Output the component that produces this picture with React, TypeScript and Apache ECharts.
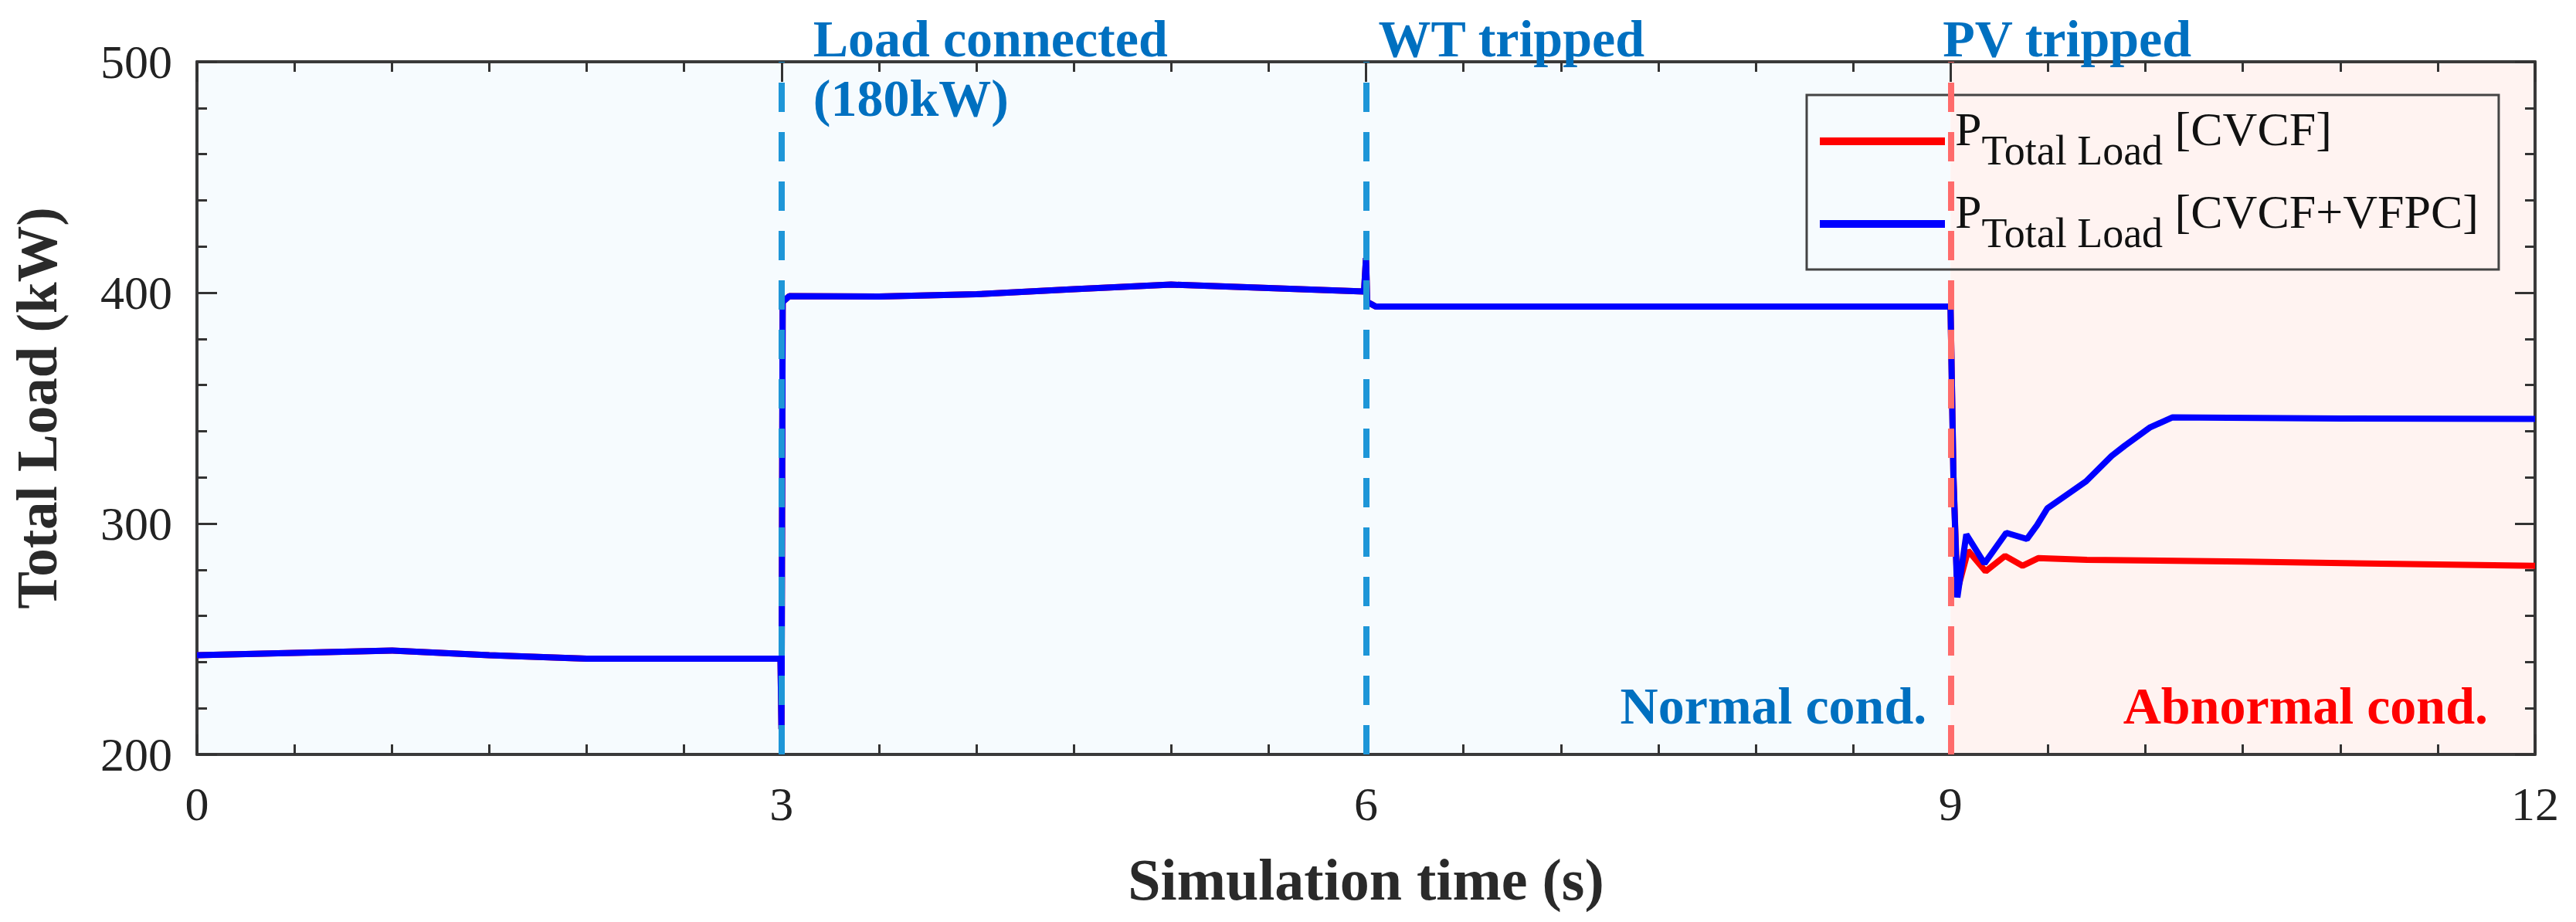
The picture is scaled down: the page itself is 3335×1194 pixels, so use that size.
import React, { useEffect, useRef } from "react";
import * as echarts from "echarts";

// ---- data ----
// shared trajectory of both controllers before the PV trip (t < 9 s)
const tCommon = [0, 0.5, 1.0, 1.5, 2.0, 2.5, 2.995, 3.0, 3.006, 3.04, 3.5, 4.0, 4.5, 5.0, 5.5, 5.99, 6.0, 6.006, 6.05, 7.0, 8.0, 8.995];
const pCommon = [243, 244, 245, 243, 241.5, 241.5, 241.5, 211, 396, 398.5, 398.3, 399.3, 401.5, 403.5, 402, 400.5, 415, 396, 394, 394, 394, 394];

// CVCF after the PV trip
const tCVCF = [9.0, 9.015, 9.035, 9.09, 9.18, 9.28, 9.37, 9.45, 9.7, 10.5, 11.5, 12.0];
const pCVCF = [394, 320, 271, 288.3, 279.3, 286, 281.7, 285, 284.3, 283.5, 282.3, 281.7];

// CVCF+VFPC after the PV trip
const tVFPC = [9.0, 9.015, 9.035, 9.081, 9.174, 9.286, 9.392, 9.444, 9.497, 9.628, 9.696, 9.827, 9.894, 10.025, 10.14, 11.0, 12.0];
const pVFPC = [394, 320, 268, 295.3, 282.7, 296, 293.3, 299.3, 306.6, 314.3, 318.3, 329.3, 333.7, 341.7, 346, 345.5, 345.3];

const seriesNames = ["CVCF", "CVCF+VFPC"];
const eventTimes = [3, 6, 9];
const xRange = [0, 12];
const xStep = 3;
const yRange = [200, 500];
const yStep = 100;

const SERIF = "'Liberation Serif', 'Times New Roman', serif";
const ANNO_BLUE = "#0070C0";

function zip(t: number[], p: number[]) {
  return t.map((v, i) => [v, p[i]]);
}

export default function App() {
  const ref = useRef<HTMLDivElement>(null);

  useEffect(() => {
    if (!ref.current) return;
    const chart = echarts.init(ref.current, undefined, { renderer: "svg" });

    const axisLine = { show: true, onZero: false, lineStyle: { color: "#3a3a3a", width: 4 } };
    const tickStyle = { color: "#333", width: 3 };

    const xBase = {
      type: "value" as const,
      min: xRange[0],
      max: xRange[1],
      interval: xStep,
      z: 1,
      axisLine,
      axisTick: { show: true, inside: true, length: 26, lineStyle: tickStyle },
      minorTick: { show: true, splitNumber: 6, length: 13, lineStyle: tickStyle },
      splitLine: { show: false },
    };
    const yBase = {
      type: "value" as const,
      min: yRange[0],
      max: yRange[1],
      interval: yStep,
      z: 1,
      axisLine,
      axisTick: { show: true, inside: true, length: 26, lineStyle: tickStyle },
      minorTick: { show: true, splitNumber: 5, length: 13, lineStyle: tickStyle },
    };

    const legendRich = {
      p: { fontSize: 62, lineHeight: 62, height: 62, fontFamily: SERIF, color: "#111", verticalAlign: "top" },
      s: {
        fontSize: 54,
        height: 54,
        lineHeight: 94,
        fontFamily: SERIF,
        color: "#111",
        verticalAlign: "top",
        padding: [32, 0, 8, 0],
      },
      n: { fontSize: 62, lineHeight: 62, height: 62, fontFamily: SERIF, color: "#111", verticalAlign: "top" },
    };

    const option: any = {
      animation: false,
      backgroundColor: "#ffffff",
      grid: { left: 255, right: 53, top: 80, bottom: 217, containLabel: false },
      xAxis: [
        {
          ...xBase,
          position: "bottom",
          axisLabel: { show: true, fontSize: 62, fontFamily: SERIF, color: "#222", margin: 33 },
          name: "Simulation time (s)",
          nameLocation: "middle",
          nameGap: 124,
          nameTextStyle: { fontSize: 76, fontWeight: "bold", fontFamily: SERIF, color: "#2a2a2a" },
        },
        { ...xBase, position: "top", axisLabel: { show: false } },
      ],
      yAxis: [
        {
          ...yBase,
          position: "left",
          axisLabel: { show: true, fontSize: 62, fontFamily: SERIF, color: "#222", margin: 32 },
          splitLine: { show: true, lineStyle: { color: "#E2E2E2", width: 4 } },
          name: "Total Load (kW)",
          nameLocation: "middle",
          nameGap: 170,
          nameTextStyle: { fontSize: 73, fontWeight: "bold", fontFamily: SERIF, color: "#2a2a2a" },
        },
        { ...yBase, position: "right", axisLabel: { show: false }, splitLine: { show: false } },
      ],
      legend: {
        show: true,
        orient: "vertical",
        left: 2339,
        top: 123,
        padding: [13, 26, 12, 17],
        itemGap: 13,
        itemWidth: 162,
        itemHeight: 10,
        icon: "rect",
        borderColor: "#444",
        borderWidth: 3,
        borderRadius: 0,
        backgroundColor: "transparent",
        selectedMode: false,
        data: seriesNames,
        formatter: (name: string) => `{p|P}{s|Total Load}{n| [${name}]}`,
        textStyle: { fontFamily: SERIF, color: "#111", padding: [0, 0, 0, 8], rich: legendRich },
      },
      series: [
        {
          name: "bg",
          type: "line",
          data: [[0, 200]],
          z: 0,
          silent: true,
          showSymbol: false,
          symbol: "none",
          lineStyle: { opacity: 0 },
          markArea: {
            silent: true,
            data: [
              [{ xAxis: xRange[0], itemStyle: { color: "#F6FBFE" } }, { xAxis: eventTimes[2] }],
              [{ xAxis: eventTimes[2], itemStyle: { color: "#FFF3F1" } }, { xAxis: xRange[1] }],
            ],
          },
        },
        {
          name: "events",
          type: "line",
          data: [[0, 200]],
          z: 2,
          silent: true,
          showSymbol: false,
          symbol: "none",
          lineStyle: { opacity: 0 },
          markLine: {
            silent: true,
            symbol: ["none", "none"],
            label: { show: false },
            data: eventTimes.map((t, i) => ({
              xAxis: t,
              lineStyle: {
                color: i < 2 ? "#1E96D8" : "#FF6B6B",
                type: [38, 26],
                width: 8,
              },
            })),
          },
        },
        {
          name: seriesNames[0],
          type: "line",
          z: 3,
          data: [...zip(tCommon, pCommon), ...zip(tCVCF, pCVCF)],
          showSymbol: false,
          symbol: "none",
          lineStyle: { color: "#FF0000", width: 8 },
          itemStyle: { color: "#FF0000" },
        },
        {
          name: seriesNames[1],
          type: "line",
          z: 4,
          data: [...zip(tCommon, pCommon), ...zip(tVFPC, pVFPC)],
          showSymbol: false,
          symbol: "none",
          lineStyle: { color: "#0000FF", width: 8 },
          itemStyle: { color: "#0000FF" },
        },
      ],
    };

    chart.setOption(option);

    const px = (x: number, y: number) =>
      chart.convertToPixel({ xAxisIndex: 0, yAxisIndex: 0 }, [x, y]) as number[];
    const top = px(0, yRange[1])[1];
    const bottom = px(0, yRange[0])[1];
    const x3 = px(eventTimes[0], yRange[1])[0];
    const x6 = px(eventTimes[1], yRange[1])[0];
    const x9 = px(eventTimes[2], yRange[1])[0];
    const x12 = px(xRange[1], yRange[1])[0];

    const txt = (text: string, x: number, y: number, color: string, align: string) => ({
      type: "text",
      x,
      y,
      silent: true,
      z: 10,
      style: {
        text,
        fill: color,
        fontSize: 68,
        fontWeight: "bold",
        fontFamily: SERIF,
        align,
        textAlign: align,
        verticalAlign: "middle",
        textVerticalAlign: "middle",
      },
    });

    chart.setOption({
      graphic: [
        txt("Load connected", x3 + 41, top - 30, ANNO_BLUE, "left"),
        txt("(180kW)", x3 + 41, top + 47, ANNO_BLUE, "left"),
        txt("WT tripped", x6 + 16, top - 30, ANNO_BLUE, "left"),
        txt("PV tripped", x9 - 10, top - 30, ANNO_BLUE, "left"),
        txt("Normal cond.", x9 - 31, bottom - 63, ANNO_BLUE, "right"),
        txt("Abnormal cond.", x12 - 61, bottom - 63, "#FF0000", "right"),
      ],
    });

    return () => chart.dispose();
  }, []);

  return (
    <div
      ref={ref}
      style={{ position: "fixed", left: 0, top: 0, width: 3335, height: 1194, background: "#fff" }}
    />
  );
}
